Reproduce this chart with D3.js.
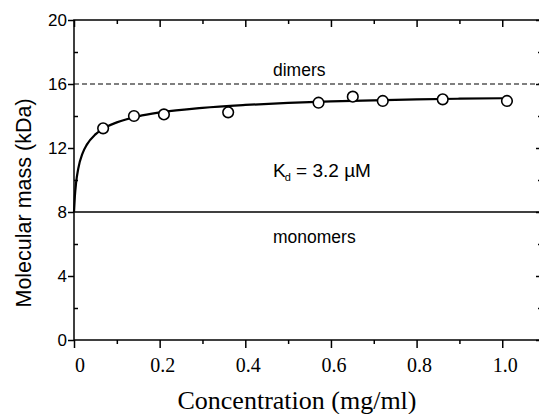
<!DOCTYPE html>
<html>
<head>
<meta charset="utf-8">
<script src="https://cdn.jsdelivr.net/npm/d3@7"></script>
<style>
  body { margin: 0; background: #fff; }
  svg { display: block; }
</style>
</head>
<body>
<svg id="chart" width="539" height="414"></svg>
<script>
// measured points
var concentration = [0.068, 0.140, 0.210, 0.360, 0.571, 0.651, 0.721, 0.861, 1.011];
var mass = [13.23, 14.0, 14.1, 14.23, 14.83, 15.21, 14.94, 15.04, 14.94];

// fitted curve
var fitConc = [0, 0.002, 0.005, 0.01, 0.02, 0.03, 0.05, 0.075, 0.1, 0.15, 0.2, 0.3, 0.4, 0.5, 0.6, 0.7, 0.8, 0.9, 1.0];
var fitMass = [8.0, 8.97, 9.85, 10.72, 11.67, 12.21, 12.85, 13.31, 13.60, 13.98, 14.22, 14.51, 14.69, 14.82, 14.91, 14.98, 15.04, 15.08, 15.11];

var xMajor = [0, 0.2, 0.4, 0.6, 0.8, 1.0];
var xMinor = [0.1, 0.3, 0.5, 0.7, 0.9];
var yMajor = [0, 4, 8, 12, 16, 20];
var yMinor = [2, 6, 10, 14, 18];

var monomerMass = 8;
var dimerMass = 16;

var svg = d3.select("#chart");
var plotL = 74, plotR = 541, plotT = 20, plotB = 340;

var x = d3.scaleLinear().domain([0, 1.0905]).range([plotL, plotR]);
var y = d3.scaleLinear().domain([0, 20]).range([plotB, plotT]);

var sans = "'Liberation Sans', Arial, sans-serif";
var serif = "'Liberation Serif', 'Times New Roman', serif";

// reference lines
svg.append("line")
  .attr("x1", plotL).attr("x2", plotR)
  .attr("y1", y(monomerMass)).attr("y2", y(monomerMass))
  .attr("stroke", "#000").attr("stroke-width", 1.5);

svg.append("line")
  .attr("x1", plotL).attr("x2", plotR)
  .attr("y1", y(dimerMass)).attr("y2", y(dimerMass))
  .attr("stroke", "#000").attr("stroke-width", 1.2)
  .attr("stroke-dasharray", "5,3");

// axes: bottom/left major ticks out, mirrored ones in
function tickAxis(axis, vals, size, pos) {
  return svg.append("g")
    .attr("transform", pos)
    .call(axis.tickValues(vals).tickSize(size).tickFormat(""))
    .call(g => g.select(".domain").remove())
    .call(g => g.selectAll("line").attr("stroke", "#000").attr("stroke-width", 1.5));
}
tickAxis(d3.axisBottom(x), xMajor, 8, "translate(0," + plotB + ")");
tickAxis(d3.axisBottom(x), xMinor, 4, "translate(0," + plotB + ")");
tickAxis(d3.axisTop(x), xMajor, -7, "translate(0," + plotT + ")");
tickAxis(d3.axisTop(x), xMinor, -4, "translate(0," + plotT + ")");
tickAxis(d3.axisLeft(y), yMajor, 6, "translate(" + plotL + ",0)");
tickAxis(d3.axisLeft(y), yMinor, -4, "translate(" + plotL + ",0)");
tickAxis(d3.axisRight(y), yMajor, -5, "translate(" + plotR + ",0)");
tickAxis(d3.axisRight(y), yMinor, -3, "translate(" + plotR + ",0)");

svg.append("rect")
  .attr("x", plotL).attr("y", plotT)
  .attr("width", plotR - plotL).attr("height", plotB - plotT)
  .attr("fill", "none").attr("stroke", "#000").attr("stroke-width", 1.5);

// tick labels
svg.append("g").selectAll("text")
  .data(xMajor).enter().append("text")
  .attr("x", d => x(d) + (d === 0 ? 6 : 3))
  .attr("y", 372)
  .attr("text-anchor", "middle")
  .style("font-family", serif).style("font-size", "20px")
  .text(d => d === 0 ? "0" : d3.format(".1f")(d));

svg.append("g").selectAll("text")
  .data(yMajor).enter().append("text")
  .attr("x", 67)
  .attr("y", d => y(d))
  .attr("dy", "0.36em")
  .attr("text-anchor", "end")
  .style("font-family", sans).style("font-size", "17px")
  .text(d => d);

// axis titles
svg.append("text")
  .attr("transform", "translate(31,203) rotate(-90)")
  .attr("text-anchor", "middle")
  .style("font-family", sans).style("font-size", "21.5px")
  .text("Molecular mass (kDa)");

svg.append("text")
  .attr("x", 297).attr("y", 409)
  .attr("text-anchor", "middle")
  .style("font-family", serif).style("font-size", "26px")
  .text("Concentration (mg/ml)");

// fit curve
var fit = fitConc.map((c, i) => [c, fitMass[i]]);
svg.append("path")
  .datum(fit)
  .attr("fill", "none")
  .attr("stroke", "#000")
  .attr("stroke-width", 2.2)
  .attr("d", d3.line().x(d => x(d[0])).y(d => y(d[1])).curve(d3.curveMonotoneX));

// data points
svg.append("g").selectAll("circle")
  .data(concentration).enter().append("circle")
  .attr("cx", d => x(d))
  .attr("cy", (d, i) => y(mass[i]))
  .attr("r", 5.3)
  .attr("fill", "#fff")
  .attr("stroke", "#000")
  .attr("stroke-width", 1.6);

// labels
svg.append("text")
  .attr("x", 273).attr("y", 76)
  .style("font-family", sans).style("font-size", "17.5px")
  .text("dimers");

svg.append("text")
  .attr("x", 273).attr("y", 243)
  .style("font-family", sans).style("font-size", "17.5px")
  .text("monomers");

var kd = svg.append("text")
  .attr("x", 273).attr("y", 177)
  .style("font-family", sans).style("font-size", "19px");
kd.append("tspan").text("K");
kd.append("tspan").attr("dx", -1).attr("dy", 4).style("font-size", "11px").text("d");
kd.append("tspan").attr("dy", -4).text(" = 3.2 \u00b5M");
</script>
</body>
</html>
